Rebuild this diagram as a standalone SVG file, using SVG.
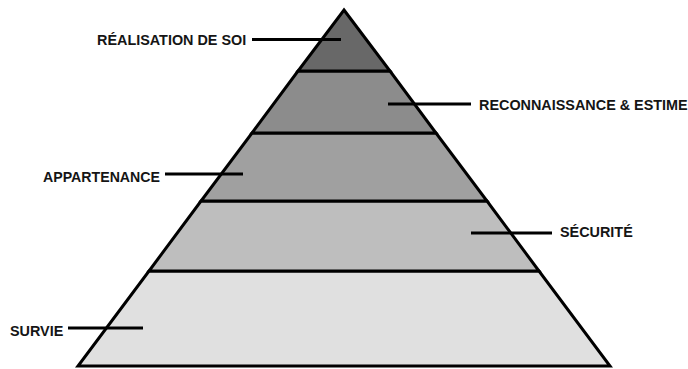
<svg xmlns="http://www.w3.org/2000/svg" width="688" height="369" viewBox="0 0 688 369">
<style>
.band{stroke:#000;stroke-width:3;stroke-linejoin:miter}
.lbl{font-family:"Liberation Sans",Arial,sans-serif;font-weight:bold;font-size:14.4px;fill:#151515}
.ln{stroke:#000;stroke-width:3;fill:none}
</style>
<rect width="688" height="369" fill="#fff"/>
<g id="survie"><polygon class="band" points="149,271 539,271 610,366 78,366" fill="#e0e0e0"/><text class="lbl" x="10" y="335.5">SURVIE</text></g>
<g id="securite"><polygon class="band" points="201,201 487,201 539,271 149,271" fill="#bebebe"/><text class="lbl" x="560" y="237">SÉCURITÉ</text></g>
<g id="appartenance"><polygon class="band" points="252,133 436,133 487,201 201,201" fill="#a0a0a0"/><text class="lbl" x="43" y="181.5" textLength="117" lengthAdjust="spacingAndGlyphs">APPARTENANCE</text></g>
<g id="reconnaissance"><polygon class="band" points="298,71 390,71 436,133 252,133" fill="#8c8c8c"/><text class="lbl" x="479" y="110">RECONNAISSANCE &amp; ESTIME</text></g>
<g id="realisation"><polygon class="band" points="344,10 390,71 298,71" fill="#686868"/><text class="lbl" x="97" y="45">RÉALISATION DE SOI</text></g>
<g id="connectors">
<line class="ln" x1="252" y1="39.5" x2="341" y2="39.5"/>
<line class="ln" x1="388" y1="104" x2="471" y2="104"/>
<line class="ln" x1="165" y1="174" x2="243" y2="174"/>
<line class="ln" x1="471" y1="233" x2="552" y2="233"/>
<line class="ln" x1="68" y1="328" x2="143" y2="328"/>
</g>
</svg>
